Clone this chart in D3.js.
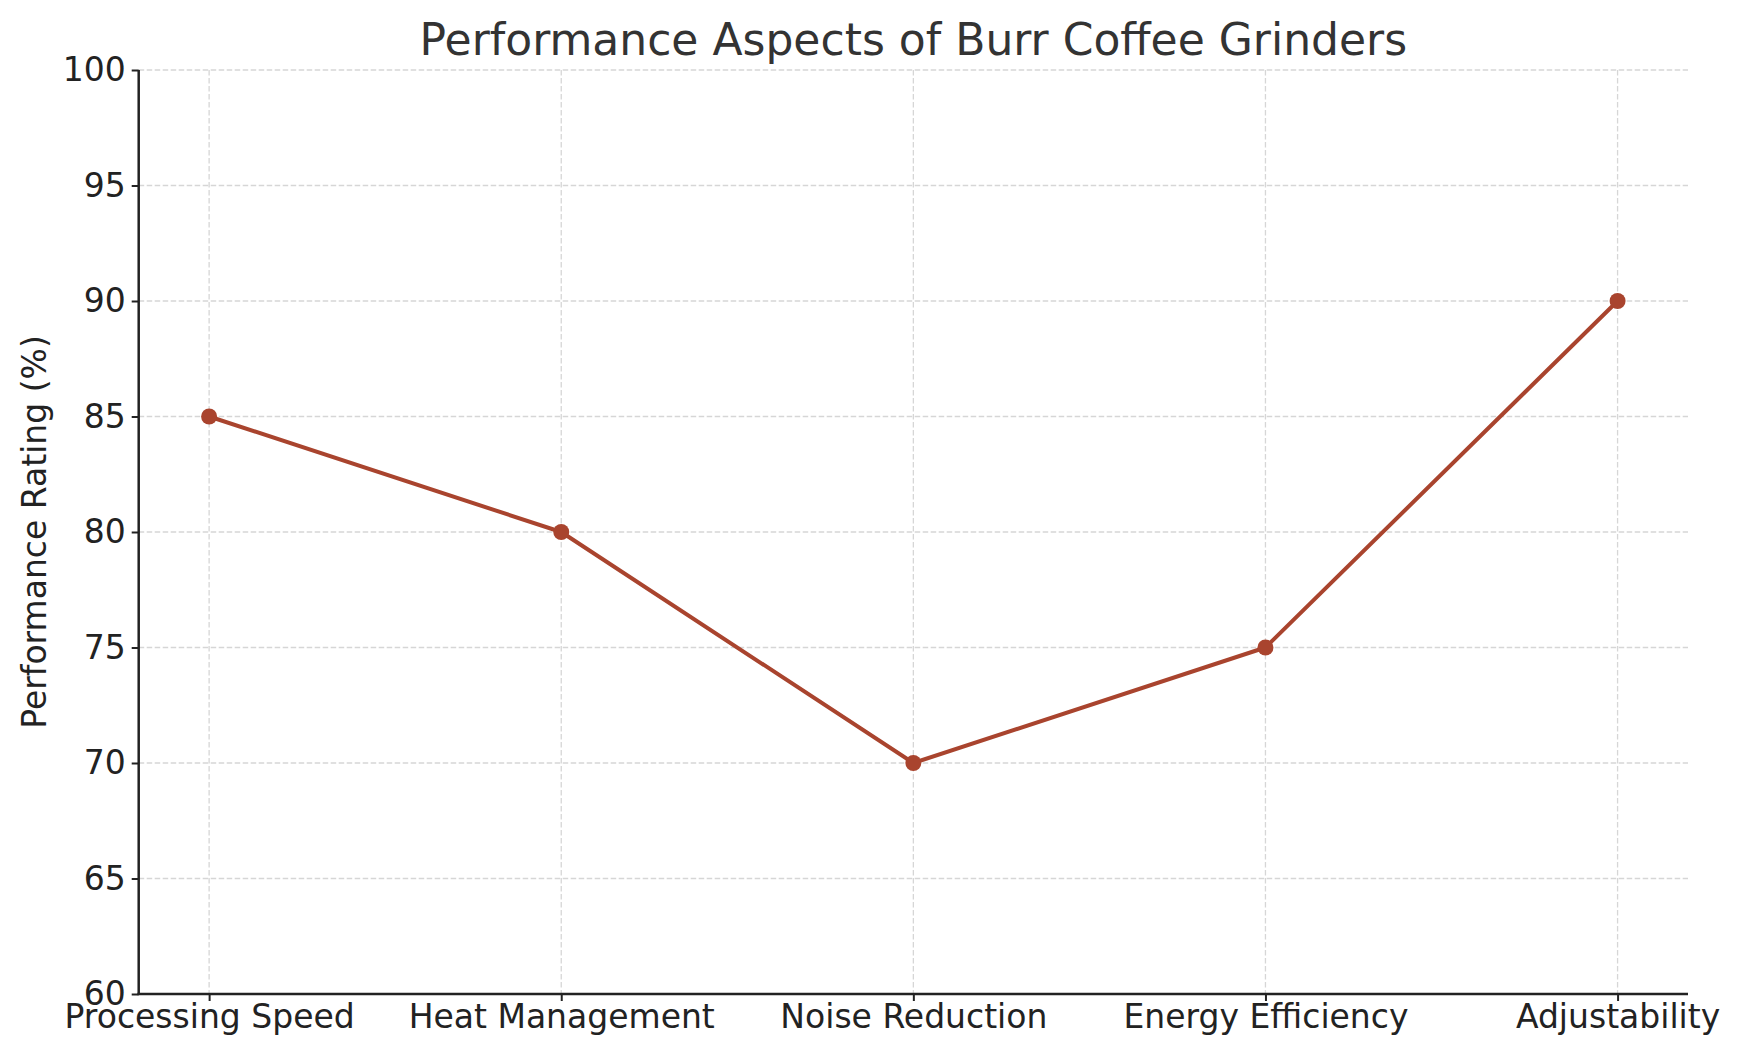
<!DOCTYPE html>
<html><head><meta charset="utf-8">
<script src="https://cdn.jsdelivr.net/npm/d3@7"></script>
<style>body{margin:0;background:#fff}svg{display:block}text{font-family:"DejaVu Sans",sans-serif}</style>
</head><body>
<svg id="c" width="1740" height="1057"></svg>
<script>
const categories = ["Processing Speed","Heat Management","Noise Reduction","Energy Efficiency","Adjustability"];
const ratings = [85, 80, 70, 75, 90];
const yTicks = [60,65,70,75,80,85,90,95,100];
const title = "Performance Aspects of Burr Coffee Grinders";
const yLabel = "Performance Rating (%)";

const svg = d3.select("#c");
const L=138.7, R=1688, T=70, B=994;
const x = d3.scaleLinear().domain([-0.2, categories.length-1+0.2]).range([L,R]);
const y = d3.scaleLinear().domain([60,100]).range([B,T]);
const lineColor = "#a9442e";

// grid
const g = svg.append("g");
g.selectAll(".hg").data(yTicks).join("line")
  .attr("x1",L).attr("x2",R).attr("y1",d=>y(d)).attr("y2",d=>y(d))
  .attr("stroke","#d6d6d6").attr("stroke-width",1.3).attr("stroke-dasharray","5.5,2.5");
g.selectAll(".vg").data(categories).join("line")
  .attr("x1",(d,i)=>x(i)).attr("x2",(d,i)=>x(i)).attr("y1",T).attr("y2",B)
  .attr("stroke","#d6d6d6").attr("stroke-width",1.3).attr("stroke-dasharray","5.5,2.5");

// axes
const yAxis = d3.axisLeft(y).tickValues(yTicks).tickSize(7).tickPadding(6);
const xAxis = d3.axisBottom(x).tickValues(d3.range(categories.length)).tickFormat(i=>categories[i]).tickSize(7).tickPadding(4);
const ya = svg.append("g").attr("transform",`translate(${L},0)`).call(yAxis);
const xa = svg.append("g").attr("transform",`translate(0,${B})`).call(xAxis);
[ya,xa].forEach(a=>{
  a.select(".domain").remove();
  a.selectAll(".tick line").attr("stroke","#222").attr("stroke-width",2);
  a.selectAll(".tick text").attr("fill","#222").style("font-size","33px");
});
svg.append("line").attr("x1",L).attr("x2",L).attr("y1",T).attr("y2",B).attr("stroke","#222").attr("stroke-width",2.5);
svg.append("line").attr("x1",L-1.25).attr("x2",R).attr("y1",B).attr("y2",B).attr("stroke","#222").attr("stroke-width",2.5);

// line
svg.append("path").datum(ratings)
  .attr("d", d3.line().x((d,i)=>x(i)).y(d=>y(d)))
  .attr("fill","none").attr("stroke",lineColor).attr("stroke-width",4).attr("stroke-linejoin","round");
svg.selectAll(".pt").data(ratings).join("circle")
  .attr("cx",(d,i)=>x(i)).attr("cy",d=>y(d)).attr("r",8).attr("fill",lineColor);

// title & labels
svg.append("text").attr("x",(L+R)/2).attr("y",55).attr("text-anchor","middle")
  .attr("fill","#333").style("font-size","44px").text(title);
svg.append("text").attr("transform",`translate(46,${(T+B)/2}) rotate(-90)`).attr("text-anchor","middle")
  .attr("fill","#222").style("font-size","33px").text(yLabel);
</script>
</body></html>
